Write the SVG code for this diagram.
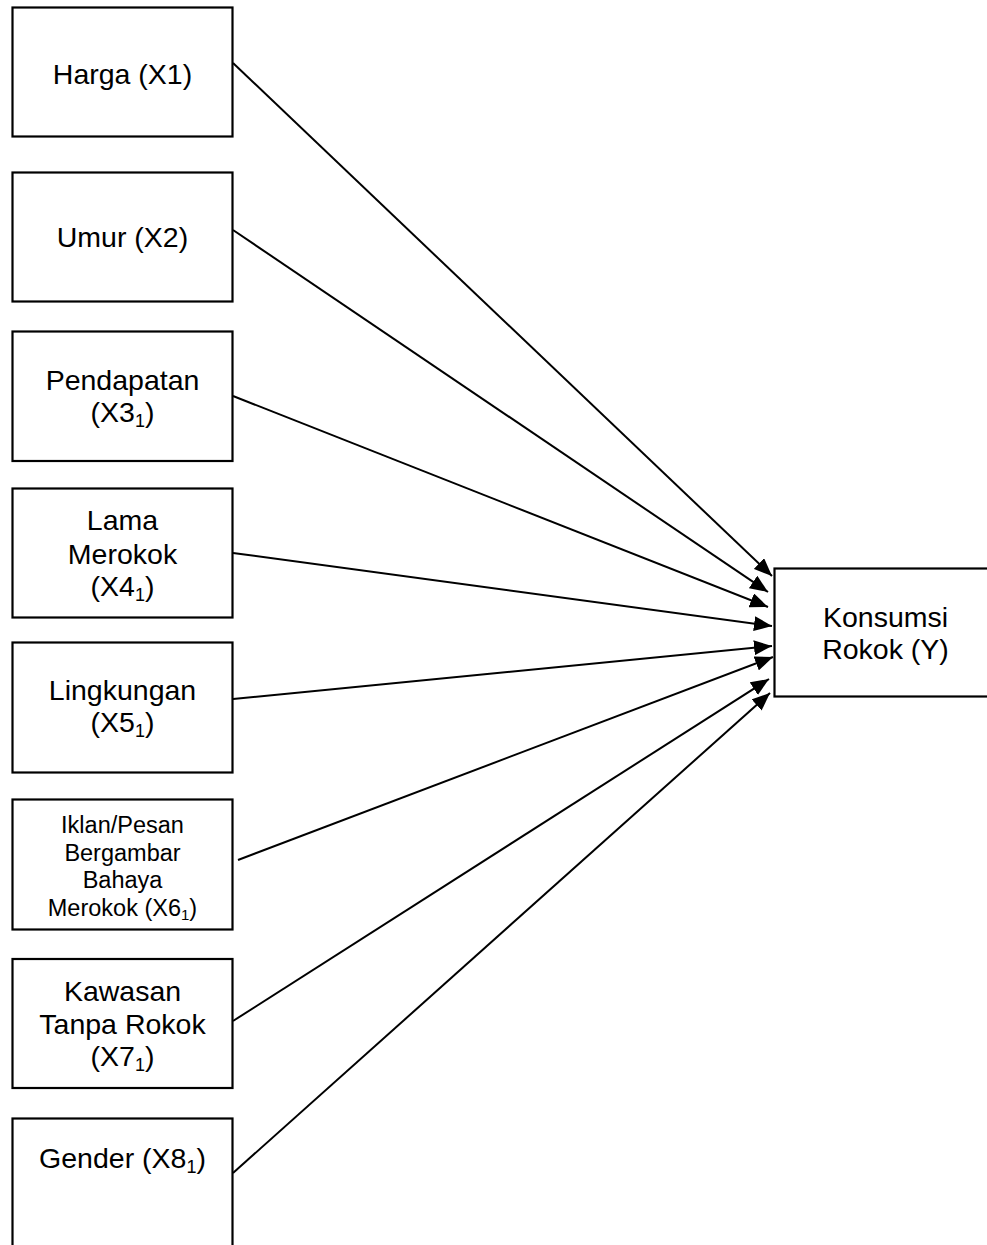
<svg xmlns="http://www.w3.org/2000/svg" width="987" height="1245" viewBox="0 0 987 1245">
<style>
.box{fill:#fff;stroke:#000;stroke-width:2.2}
.t{font-family:"Liberation Sans",Arial,sans-serif;font-size:28.5px;fill:#000;text-anchor:middle}
.s{font-family:"Liberation Sans",Arial,sans-serif;font-size:23.5px;fill:#000;text-anchor:middle}
.c{stroke:#000;stroke-width:2;fill:none;marker-end:url(#ah)}
</style>
<defs>
<marker id="ah" markerUnits="userSpaceOnUse" markerWidth="19" markerHeight="15" refX="18" refY="7.5" orient="auto">
<path d="M0,0 L18,7.5 L0,15 z" fill="#000"/>
</marker>
</defs>
<rect width="987" height="1245" fill="#fff"/>
<g id="connectors">
<line class="c" x1="233" y1="63" x2="772" y2="576"/>
<line class="c" x1="233" y1="230" x2="768" y2="592"/>
<line class="c" x1="233" y1="396" x2="768" y2="607"/>
<line class="c" x1="233" y1="553" x2="772" y2="626"/>
<line class="c" x1="233" y1="699" x2="772" y2="646"/>
<line class="c" x1="238" y1="860" x2="773" y2="657"/>
<line class="c" x1="233" y1="1021" x2="769" y2="679"/>
<line class="c" x1="233" y1="1173" x2="770" y2="693"/>
</g>
<g id="n1"><rect class="box" x="12.5" y="7.5" width="220" height="129"/><text class="t" x="122.5" y="84">Harga (X1)</text></g>
<g id="n2"><rect class="box" x="12.5" y="172.5" width="220" height="129"/><text class="t" x="122.5" y="247">Umur (X2)</text></g>
<g id="n3"><rect class="box" x="12.5" y="331.5" width="220" height="129.5"/><text class="t" x="122.5" y="390">Pendapatan</text><text class="t" x="122.5" y="422">(X3<tspan font-size="18" dy="5">1</tspan><tspan dy="-5">)</tspan></text></g>
<g id="n4"><rect class="box" x="12.5" y="488.5" width="220" height="129"/><text class="t" x="122.5" y="530">Lama</text><text class="t" x="122.5" y="564">Merokok</text><text class="t" x="122.5" y="596">(X4<tspan font-size="18" dy="5">1</tspan><tspan dy="-5">)</tspan></text></g>
<g id="n5"><rect class="box" x="12.5" y="642.5" width="220" height="130"/><text class="t" x="122.5" y="700">Lingkungan</text><text class="t" x="122.5" y="732">(X5<tspan font-size="18" dy="5">1</tspan><tspan dy="-5">)</tspan></text></g>
<g id="n6"><rect class="box" x="12.5" y="799.5" width="220" height="130"/><text class="s" x="122.5" y="833">Iklan/Pesan</text><text class="s" x="122.5" y="860.5">Bergambar</text><text class="s" x="122.5" y="888">Bahaya</text><text class="s" x="122.5" y="915.5">Merokok (X6<tspan font-size="15" dy="4">1</tspan><tspan dy="-4">)</tspan></text></g>
<g id="n7"><rect class="box" x="12.5" y="959" width="220" height="129"/><text class="t" x="122.5" y="1001">Kawasan</text><text class="t" x="122.5" y="1034">Tanpa Rokok</text><text class="t" x="122.5" y="1066">(X7<tspan font-size="18" dy="5">1</tspan><tspan dy="-5">)</tspan></text></g>
<g id="n8"><rect class="box" x="12.5" y="1118.5" width="220" height="140"/><text class="t" x="122.5" y="1168">Gender (X8<tspan font-size="18" dy="5">1</tspan><tspan dy="-5">)</tspan></text></g>
<g id="ny"><rect class="box" x="774.5" y="568.5" width="222" height="128"/><text class="t" x="885.5" y="627">Konsumsi</text><text class="t" x="885.5" y="659">Rokok (Y)</text></g>
</svg>
